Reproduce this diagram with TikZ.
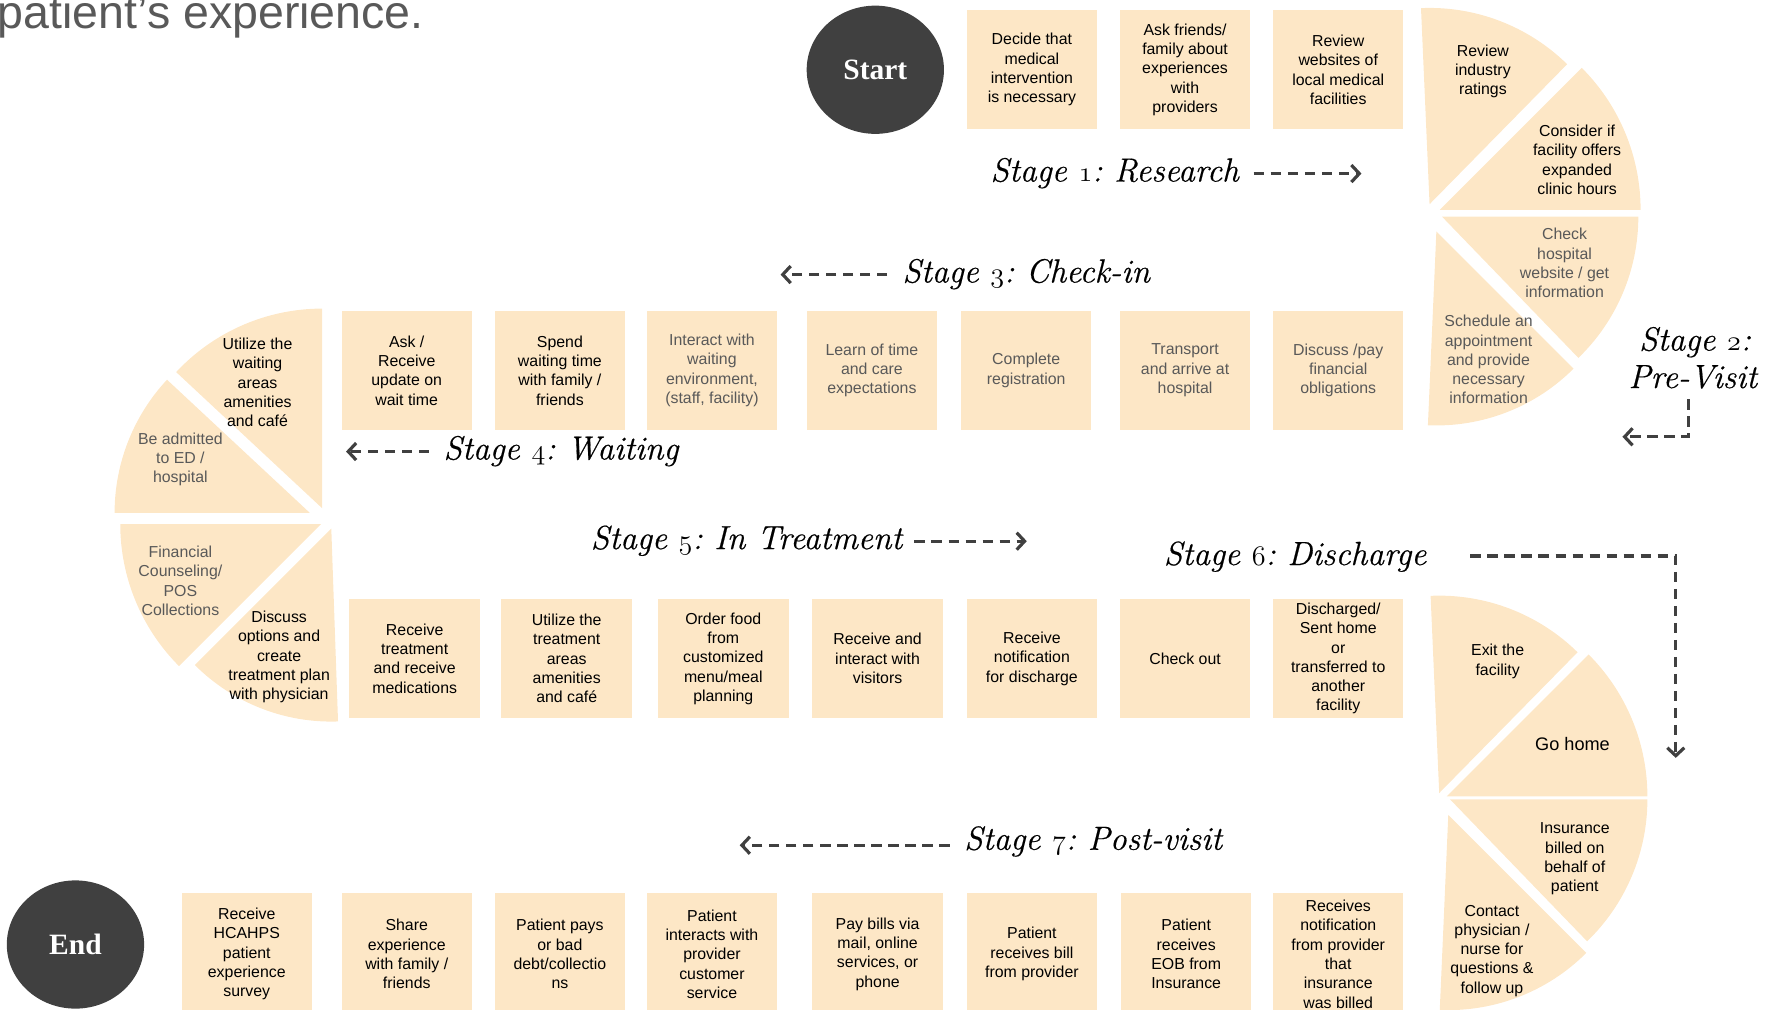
\documentclass[tikz,border=0pt]{standalone}
\usepackage{fontspec}
\usetikzlibrary{arrows.meta,shapes.geometric}
\newfontfamily\arialfont{Liberation Sans}
\newfontfamily\timesfont{Liberation Serif}
\newfontfamily\stagefont{Latin Modern Roman}[FakeBold=0.5]
\definecolor{peach}{HTML}{FDE7C6}
\definecolor{softink}{HTML}{595959}
\definecolor{discgray}{HTML}{404040}
\definecolor{arrowgray}{HTML}{404040}
% old-style figures for the stage numbers
\newcommand\osnum[1]{{\usefont{OML}{lmm}{b}{it}#1}}
% one exploded pie slice: vertex, start angle, end angle, radius
\newcommand\fanpiece[4]{\fill[peach] #1 -- ++(#2:#4) arc[start angle=#2, end angle=#3, radius=#4] -- cycle;}

\begin{document}
\begin{tikzpicture}[x=1pt,y=1pt,
  stepbox/.style={fill=peach, minimum width=115pt, minimum height=105pt, inner sep=0pt,
    align=center, text=black, font=\arialfont\fontsize{14}{17}\selectfont},
  softbox/.style={stepbox, text=softink},
  lastbox/.style={stepbox, minimum height=108pt},
  slicetext/.style={align=center, inner sep=0pt, text=black,
    font=\arialfont\fontsize{14}{17}\selectfont},
  softslice/.style={slicetext, text=softink},
  stagelabel/.style={font=\stagefont\itshape\frenchspacing\fontsize{29.5}{33}\selectfont,
    inner sep=0pt, anchor=base, text=black},
  disc/.style={ellipse, fill=discgray, minimum width=121pt, minimum height=113pt, inner sep=0pt,
    text=white, font=\timesfont\bfseries\fontsize{26}{30}\selectfont},
  flow/.style={draw=arrowgray, line width=2.8pt, dash pattern=on 9pt off 6pt,
    -{Straight Barb[length=7pt,width=15pt]}}
]
\useasboundingbox (0,0) rectangle (1568,890);

% heading, cut by the top edge
\node[anchor=base west, inner sep=0pt, text=softink, font=\arialfont\fontsize{41}{41}\selectfont]
  (title) at (-2,865) {patient’s experience.};

% start and end discs
\node[disc] (start) at (771.5,828.5) {Start};
\node[disc] (end) at (66.5,57.5) {End};

% ---------- Stage 1: Research ----------
\node[stepbox] (r1a) at (909.5,828.5) {Decide that\\medical\\intervention\\is necessary};
\node[stepbox] (r1b) at (1044.5,828.5) {Ask friends/\\family about\\experiences\\with\\providers};
\node[stepbox] (r1c) at (1179.5,828.5) {Review\\websites of\\local medical\\facilities};

% ---------- Stage 2: Pre-Visit fan ----------
\fanpiece{(1260,710)}{45.5}{92.5}{173}
\fanpiece{(1269,705)}{0}{45}{177}
\fanpiece{(1271,699)}{-46}{0}{173}
\fanpiece{(1266,686)}{-92.5}{-45}{171}
\node[slicetext] (f1a) at (1307,827) {Review\\industry\\ratings};
\node[slicetext] (f1b) at (1390,749) {Consider if\\facility offers\\expanded\\clinic hours};
\node[softslice] (f1c) at (1379,658) {Check\\hospital\\website / get\\information};
\node[softslice] (f1d) at (1312,573) {Schedule an\\appointment\\and provide\\necessary\\information};

% ---------- Stage 3 and 4 row ----------
\node[stepbox] (r2a) at (358.5,563.5) {Ask /\\Receive\\update on\\wait time};
\node[stepbox] (r2b) at (493.5,563.5) {Spend\\waiting time\\with family /\\friends};
\node[softbox] (r2c) at (627.5,563.5) {Interact with\\waiting\\environment,\\(staff, facility)};
\node[softbox] (r2d) at (768.5,563.5) {Learn of time\\and care\\expectations};
\node[softbox] (r2e) at (904.5,563.5) {Complete\\registration};
\node[softbox] (r2f) at (1044.5,563.5) {Transport\\and arrive at\\hospital};
\node[softbox] (r2g) at (1179.5,563.5) {Discuss /pay\\financial\\obligations};

% ---------- left fan ----------
\fanpiece{(284,442)}{90}{137}{176}
\fanpiece{(273,438)}{137}{180}{172}
\fanpiece{(283,428)}{180}{225}{177}
\fanpiece{(292,424)}{225}{272}{170}
\node[slicetext] (f2a) at (227,553) {Utilize the\\waiting\\areas\\amenities\\and café};
\node[softslice] (f2b) at (159,485) {Be admitted\\to ED /\\hospital};
\node[softslice] (f2c) at (159,378) {Financial\\Counseling/\\POS\\Collections};
\node[slicetext] (f2d) at (246,311) {Discuss\\options and\\create\\treatment plan\\with physician};

% ---------- Stage 5 and 6 row ----------
\node[stepbox] (r3a) at (365.5,309.5) {Receive\\treatment\\and receive\\medications};
\node[stepbox] (r3b) at (499.5,309.5) {Utilize the\\treatment\\areas\\amenities\\and café};
\node[stepbox] (r3c) at (637.5,309.5) {Order food\\from\\customized\\menu/meal\\planning};
\node[stepbox] (r3d) at (773.5,309.5) {Receive and\\interact with\\visitors};
\node[stepbox] (r3e) at (909.5,309.5) {Receive\\notification\\for discharge};
\node[stepbox] (r3f) at (1044.5,309.5) {Check out};
\node[stepbox] (r3g) at (1179.5,309.5) {Discharged/\\Sent home\\or\\transferred to\\another\\facility};

% ---------- right lower fan ----------
\fanpiece{(1268.5,191)}{45.5}{92.5}{174}
\fanpiece{(1275,188)}{0}{45}{177}
\fanpiece{(1278,185.5)}{-46}{0}{174}
\fanpiece{(1276.5,171.7)}{-92.5}{-45}{172}
\node[slicetext] (f3a) at (1320,307) {Exit the\\facility};
\node[slicetext, font=\arialfont\fontsize{16}{19}\selectfont] (f3b) at (1386,234) {Go home};
\node[slicetext] (f3c) at (1388,133) {Insurance\\billed on\\behalf of\\patient};
\node[slicetext] (f3d) at (1315,52) {Contact\\physician /\\nurse for\\questions \&\\follow up};

% ---------- Stage 7: Post-visit row ----------
\node[lastbox] (r4a) at (217.5,49) {Receive\\HCAHPS\\patient\\experience\\survey};
\node[lastbox] (r4b) at (358.5,49) {Share\\experience\\with family /\\friends};
\node[lastbox] (r4c) at (493.5,49) {Patient pays\\or bad\\debt/collectio\\ns};
\node[lastbox] (r4d) at (627.5,49) {Patient\\interacts with\\provider\\customer\\service};
\node[lastbox] (r4e) at (773.5,49) {Pay bills via\\mail, online\\services, or\\phone};
\node[lastbox] (r4f) at (909.5,49) {Patient\\receives bill\\from provider};
\node[lastbox] (r4g) at (1045.5,49) {Patient\\receives\\EOB from\\Insurance};
\node[lastbox] (r4h) at (1179.5,49) {Receives\\notification\\from provider\\that\\insurance\\was billed};

% ---------- stage labels ----------
\node[stagelabel] (s1) at (982.5,730) {Stage \osnum{1}: Research};
\node[stagelabel] (s2a) at (1494,581) {Stage \osnum{2}:};
\node[stagelabel] (s2b) at (1492,548) {Pre-Visit};
\node[stagelabel] (s3) at (904.5,641) {Stage \osnum{3}: Check-in};
\node[stagelabel] (s4) at (494.5,485) {Stage \osnum{4}: Waiting};
\node[stagelabel] (s5) at (658,406) {Stage \osnum{5}: In Treatment};
\node[stagelabel] (s6) at (1141.5,392) {Stage \osnum{6}: Discharge};
\node[stagelabel] (s7) at (963.5,141) {Stage \osnum{7}: Post-visit};

% ---------- direction arrows ----------
\coordinate (a1s) at (1105,737);  \coordinate (a1e) at (1200,737);
\coordinate (a2s) at (1488,538);  \coordinate (a2m) at (1488,505);  \coordinate (a2e) at (1430,505);
\coordinate (a3s) at (782,648);   \coordinate (a3e) at (688,648);
\coordinate (a4s) at (378,492);   \coordinate (a4e) at (305,492);
\coordinate (a5s) at (806,413);   \coordinate (a5e) at (905,413);
\coordinate (a6s) at (1296,400);  \coordinate (a6m) at (1477,400);  \coordinate (a6e) at (1477,222);
\coordinate (a7s) at (837,145);   \coordinate (a7e) at (652,145);
\draw[flow] (a1s) -- (a1e);
\draw[flow] (a2s) -- (a2m) -- (a2e);
\draw[flow] (a3s) -- (a3e);
\draw[flow] (a4s) -- (a4e);
\draw[flow] (a5s) -- (a5e);
\draw[flow] (a6s) -- (a6m) -- (a6e);
\draw[flow] (a7s) -- (a7e);
\end{tikzpicture}
\end{document}
